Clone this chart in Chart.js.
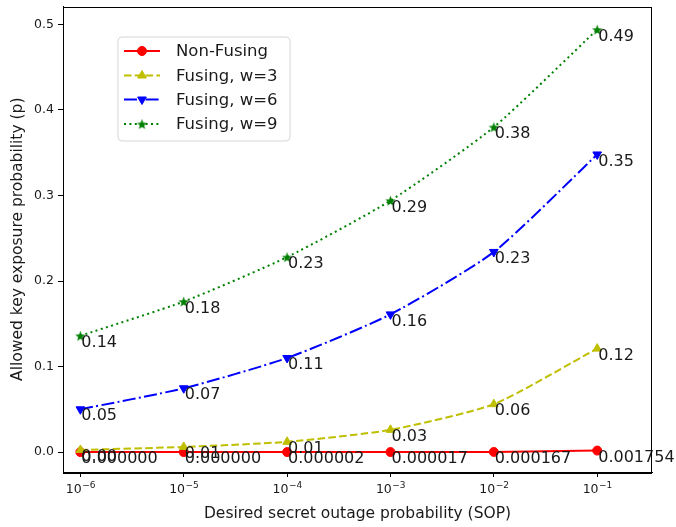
<!DOCTYPE html>
<html>
<head>
<meta charset="utf-8">
<script src="https://cdn.jsdelivr.net/npm/chart.js@4"></script>
<style>
  html, body { margin: 0; padding: 0; background: #fff; }
  #wrap { width: 676px; height: 527px; }
</style>
</head>
<body>
<div id="wrap"><canvas id="chart" width="676" height="527"></canvas></div>
<script>
// Desired SOP on the x axis (log10 exponents used for placement)
const sopValues = [1e-6, 1e-5, 1e-4, 1e-3, 1e-2, 1e-1];
const sopExponents = [-6, -5, -4, -3, -2, -1];
const sopTickBase = '10';
const sopTickPowers = ['−6', '−5', '−4', '−3', '−2', '−1'];
const yTickValues = [0, 0.1, 0.2, 0.3, 0.4, 0.5];

// Allowed key exposure probability per scheme
const nonFusing = [0.00000002, 0.00000017, 0.0000017, 0.000017, 0.000167, 0.001754];
const fusingW3 = [0.0025, 0.006, 0.012, 0.026, 0.056, 0.121];
const fusingW6 = [0.050, 0.0746, 0.110, 0.161, 0.234, 0.348];
const fusingW9 = [0.136, 0.176, 0.228, 0.294, 0.380, 0.494];

const seriesNames = ['Non-Fusing', 'Fusing, w=3', 'Fusing, w=6', 'Fusing, w=9'];

const FONT = "'DejaVu Sans', sans-serif";
const TEXT = '#1a1a1a';

// filled 5-point star like matplotlib's '*'
function makeStar(color, r) {
    const c = document.createElement('canvas');
    const s = Math.ceil(r * 2 + 2);
    c.width = s; c.height = s;
    const g = c.getContext('2d');
    g.fillStyle = color;
    g.beginPath();
    for (let i = 0; i < 10; i++) {
        const rr = i % 2 === 0 ? r : r * 0.42;
        const a = -Math.PI / 2 + i * Math.PI / 5;
        const px = s / 2 + rr * Math.cos(a);
        const py = s / 2 + rr * Math.sin(a) + 0.6;
        if (i === 0) g.moveTo(px, py); else g.lineTo(px, py);
    }
    g.closePath();
    g.fill();
    return c;
}
const greenStar = makeStar('#008000', 5.5);

function toPoints(vals) {
    return vals.map((v, i) => ({ x: sopExponents[i], y: v }));
}

const styles = [
    { color: '#ff0000', dash: [], marker: 'circle', radius: 4.5, rot: 0, fmt: 6 },
    { color: '#bfbf00', dash: [7.5, 3.3], marker: 'triangle', radius: 5, rot: 0, fmt: 2 },
    { color: '#0000ff', dash: [13, 3.3, 2, 3.3], marker: 'triangle', radius: 5, rot: 180, fmt: 2 },
    { color: '#008000', dash: [2, 3.4], marker: greenStar, radius: 5.5, rot: 0, fmt: 2 }
];
const seriesData = [nonFusing, fusingW3, fusingW6, fusingW9];

const datasets = seriesData.map((vals, i) => ({
    label: seriesNames[i],
    data: toPoints(vals),
    borderColor: styles[i].color,
    backgroundColor: styles[i].color,
    borderWidth: 2,
    borderDash: styles[i].dash,
    borderCapStyle: 'butt',
    pointStyle: styles[i].marker,
    pointRadius: styles[i].radius,
    pointRotation: styles[i].rot,
    pointBorderWidth: 1,
    pointBorderColor: styles[i].color,
    pointBackgroundColor: styles[i].color,
    tension: 0.2,
    fill: false,
    order: 4 - i
}));

// value labels next to each point, drawn after the lines
const valueLabels = {
    id: 'valueLabels',
    afterDatasetsDraw(chart) {
        const ctx = chart.ctx;
        ctx.save();
        ctx.font = '16px ' + FONT;
        ctx.fillStyle = TEXT;
        ctx.textAlign = 'left';
        ctx.textBaseline = 'top';
        chart.data.datasets.forEach((ds, i) => {
            const meta = chart.getDatasetMeta(i);
            meta.data.forEach((pt, j) => {
                ctx.fillText(seriesData[i][j].toFixed(styles[i].fmt), pt.x + 1, pt.y - 1);
            });
        });
        ctx.restore();
    }
};

// x tick labels as 10 with a raised exponent
const powerTicks = {
    id: 'powerTicks',
    afterDraw(chart) {
        const ctx = chart.ctx;
        const xs = chart.scales.x;
        const base = chart.chartArea.bottom + 21;
        ctx.save();
        ctx.fillStyle = TEXT;
        ctx.textBaseline = 'alphabetic';
        ctx.textAlign = 'left';
        sopExponents.forEach((e, i) => {
            const px = xs.getPixelForValue(e);
            ctx.font = '12.5px ' + FONT;
            const wb = ctx.measureText(sopTickBase).width;
            ctx.font = '9px ' + FONT;
            const wp = ctx.measureText(sopTickPowers[i]).width;
            const x0 = px - (wb + wp) / 2;
            ctx.font = '12.5px ' + FONT;
            ctx.fillText(sopTickBase, x0, base);
            ctx.font = '9px ' + FONT;
            ctx.fillText(sopTickPowers[i], x0 + wb + 0.5, base - 5.5);
        });
        ctx.restore();
    }
};

// full frame + legend box inside the plot
const frameAndLegend = {
    id: 'frameAndLegend',
    afterDraw(chart) {
        const ctx = chart.ctx;
        const a = chart.chartArea;
        ctx.save();
        ctx.strokeStyle = '#000';
        ctx.lineWidth = 1;
        ctx.strokeRect(Math.round(a.left) + 0.5, Math.round(a.top) + 0.5,
            Math.round(a.right - a.left) - 1, Math.round(a.bottom - a.top));

        // legend box
        const bx = 118, by = 37, bw = 172, bh = 104, r = 4;
        ctx.fillStyle = 'rgba(255,255,255,0.8)';
        ctx.strokeStyle = '#d6d6d6';
        ctx.beginPath();
        ctx.moveTo(bx + r, by);
        ctx.arcTo(bx + bw, by, bx + bw, by + bh, r);
        ctx.arcTo(bx + bw, by + bh, bx, by + bh, r);
        ctx.arcTo(bx, by + bh, bx, by, r);
        ctx.arcTo(bx, by, bx + bw, by, r);
        ctx.closePath();
        ctx.fill();
        ctx.stroke();

        const rows = [51, 75.5, 99.5, 124];
        rows.forEach((yy, i) => {
            const st = styles[i];
            ctx.strokeStyle = st.color;
            ctx.lineWidth = 2;
            ctx.lineCap = 'butt';
            ctx.setLineDash(st.dash);
            ctx.beginPath();
            ctx.moveTo(124, yy);
            ctx.lineTo(160, yy);
            ctx.stroke();
            ctx.setLineDash([]);
            ctx.fillStyle = st.color;
            ctx.strokeStyle = st.color;
            ctx.lineWidth = 1;
            Chart.helpers.drawPoint(ctx, {
                pointStyle: st.marker,
                radius: st.radius,
                rotation: st.rot,
                borderWidth: 1
            }, 142, yy);
            ctx.fillStyle = TEXT;
            ctx.font = '16.5px ' + FONT;
            ctx.textAlign = 'left';
            ctx.textBaseline = 'middle';
            ctx.fillText(seriesNames[i], 176, yy + 1);
        });
        ctx.restore();
    }
};

new Chart(document.getElementById('chart'), {
    type: 'line',
    data: { datasets },
    options: {
        responsive: false,
        animation: false,
        devicePixelRatio: 1,
        layout: { padding: { top: 5, right: 24, left: 0, bottom: 0 } },
        plugins: {
            legend: { display: false },
            tooltip: { enabled: false }
        },
        scales: {
            x: {
                type: 'linear',
                min: -6.168,
                max: -0.470,
                afterBuildTicks(scale) {
                    scale.ticks = sopExponents.map(v => ({ value: v }));
                },
                afterFit(scale) {
                    scale.height = 55;
                    scale.paddingLeft = 0;
                    scale.paddingRight = 0;
                },
                ticks: {
                    font: { family: FONT, size: 12.5 },
                    color: TEXT,
                    padding: 3,
                    maxRotation: 0,
                    autoSkip: false,
                    callback: () => ''
                },
                grid: { drawOnChartArea: false, drawTicks: true, tickLength: 5, tickColor: '#000' },
                border: { display: true, color: '#000' },
                title: {
                    display: true,
                    text: 'Desired secret outage probability (SOP)',
                    font: { family: FONT, size: 15.5 },
                    color: TEXT,
                    padding: { top: 0, bottom: 4 }
                }
            },
            y: {
                type: 'linear',
                min: -0.0233,
                max: 0.521,
                afterBuildTicks(scale) {
                    scale.ticks = yTickValues.map(v => ({ value: v }));
                },
                afterFit(scale) {
                    scale.width = 63;
                    scale.paddingTop = 0;
                    scale.paddingBottom = 0;
                },
                ticks: {
                    font: { family: FONT, size: 12.5 },
                    color: TEXT,
                    padding: 4,
                    callback: (v) => v.toFixed(1)
                },
                grid: { drawOnChartArea: false, drawTicks: true, tickLength: 5, tickColor: '#000' },
                border: { display: true, color: '#000' },
                title: {
                    display: true,
                    text: 'Allowed key exposure probability (p)',
                    font: { family: FONT, size: 15.5 },
                    color: TEXT,
                    padding: { top: 9, bottom: 0 }
                }
            }
        }
    },
    plugins: [valueLabels, powerTicks, frameAndLegend]
});
</script>
</body>
</html>
